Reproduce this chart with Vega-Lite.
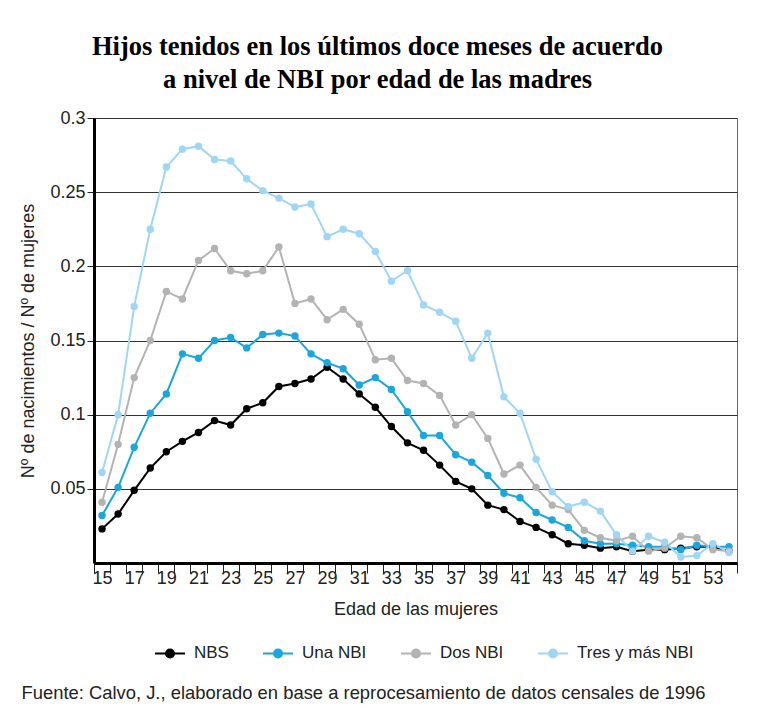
{
  "$schema": "https://vega.github.io/schema/vega-lite/v6.json",
  "background": "white",
  "padding": {"left": 19, "top": 33, "right": 10, "bottom": 10},
  "config": {
    "font": "Liberation Sans",
    "view": {"stroke": "#666", "strokeWidth": 1},
    "axis": {
      "labelFont": "Liberation Sans", "labelFontSize": 18, "labelColor": "#222",
      "titleFont": "Liberation Sans", "titleFontSize": 18, "titleFontWeight": "normal", "titleColor": "#222",
      "domainColor": "#000", "domainWidth": 3, "tickColor": "#222", "gridColor": "#333", "gridOpacity": 1
    }
  },
  "title": {
    "text": "Fuente: Calvo, J., elaborado en base a reprocesamiento de datos censales de 1996",
    "orient": "bottom", "anchor": "start", "font": "Liberation Sans", "fontSize": 18.4,
    "fontWeight": "normal", "color": "#222", "offset": 22, "dx": 2
  },
  "vconcat": [
    {
      "width": 643,
      "height": 445,
      "title": {
        "text": ["Hijos tenidos en los últimos doce meses de acuerdo", "a nivel de NBI por edad de las madres"],
        "font": "Liberation Serif", "fontSize": 26.5, "fontWeight": "bold", "color": "#000",
        "lineHeight": 33, "anchor": "middle", "dx": -38, "offset": 16
      },
      "data": {
        "values": [
          {"edad": 15, "NBS": 0.023, "Una NBI": 0.032, "Dos NBI": 0.041, "Tres y más NBI": 0.061},
          {"edad": 16, "NBS": 0.033, "Una NBI": 0.051, "Dos NBI": 0.080, "Tres y más NBI": 0.100},
          {"edad": 17, "NBS": 0.049, "Una NBI": 0.078, "Dos NBI": 0.125, "Tres y más NBI": 0.173},
          {"edad": 18, "NBS": 0.064, "Una NBI": 0.101, "Dos NBI": 0.150, "Tres y más NBI": 0.225},
          {"edad": 19, "NBS": 0.075, "Una NBI": 0.114, "Dos NBI": 0.183, "Tres y más NBI": 0.267},
          {"edad": 20, "NBS": 0.082, "Una NBI": 0.141, "Dos NBI": 0.178, "Tres y más NBI": 0.279},
          {"edad": 21, "NBS": 0.088, "Una NBI": 0.138, "Dos NBI": 0.204, "Tres y más NBI": 0.281},
          {"edad": 22, "NBS": 0.096, "Una NBI": 0.150, "Dos NBI": 0.212, "Tres y más NBI": 0.272},
          {"edad": 23, "NBS": 0.093, "Una NBI": 0.152, "Dos NBI": 0.197, "Tres y más NBI": 0.271},
          {"edad": 24, "NBS": 0.104, "Una NBI": 0.145, "Dos NBI": 0.195, "Tres y más NBI": 0.259},
          {"edad": 25, "NBS": 0.108, "Una NBI": 0.154, "Dos NBI": 0.197, "Tres y más NBI": 0.251},
          {"edad": 26, "NBS": 0.119, "Una NBI": 0.155, "Dos NBI": 0.213, "Tres y más NBI": 0.246},
          {"edad": 27, "NBS": 0.121, "Una NBI": 0.153, "Dos NBI": 0.175, "Tres y más NBI": 0.240},
          {"edad": 28, "NBS": 0.124, "Una NBI": 0.141, "Dos NBI": 0.178, "Tres y más NBI": 0.242},
          {"edad": 29, "NBS": 0.132, "Una NBI": 0.135, "Dos NBI": 0.164, "Tres y más NBI": 0.220},
          {"edad": 30, "NBS": 0.124, "Una NBI": 0.131, "Dos NBI": 0.171, "Tres y más NBI": 0.225},
          {"edad": 31, "NBS": 0.114, "Una NBI": 0.120, "Dos NBI": 0.161, "Tres y más NBI": 0.222},
          {"edad": 32, "NBS": 0.105, "Una NBI": 0.125, "Dos NBI": 0.137, "Tres y más NBI": 0.210},
          {"edad": 33, "NBS": 0.092, "Una NBI": 0.117, "Dos NBI": 0.138, "Tres y más NBI": 0.190},
          {"edad": 34, "NBS": 0.081, "Una NBI": 0.102, "Dos NBI": 0.123, "Tres y más NBI": 0.197},
          {"edad": 35, "NBS": 0.076, "Una NBI": 0.086, "Dos NBI": 0.121, "Tres y más NBI": 0.174},
          {"edad": 36, "NBS": 0.066, "Una NBI": 0.086, "Dos NBI": 0.113, "Tres y más NBI": 0.169},
          {"edad": 37, "NBS": 0.055, "Una NBI": 0.073, "Dos NBI": 0.093, "Tres y más NBI": 0.163},
          {"edad": 38, "NBS": 0.050, "Una NBI": 0.068, "Dos NBI": 0.100, "Tres y más NBI": 0.138},
          {"edad": 39, "NBS": 0.039, "Una NBI": 0.059, "Dos NBI": 0.084, "Tres y más NBI": 0.155},
          {"edad": 40, "NBS": 0.036, "Una NBI": 0.047, "Dos NBI": 0.060, "Tres y más NBI": 0.112},
          {"edad": 41, "NBS": 0.028, "Una NBI": 0.044, "Dos NBI": 0.066, "Tres y más NBI": 0.101},
          {"edad": 42, "NBS": 0.024, "Una NBI": 0.034, "Dos NBI": 0.051, "Tres y más NBI": 0.070},
          {"edad": 43, "NBS": 0.019, "Una NBI": 0.029, "Dos NBI": 0.039, "Tres y más NBI": 0.048},
          {"edad": 44, "NBS": 0.013, "Una NBI": 0.024, "Dos NBI": 0.036, "Tres y más NBI": 0.038},
          {"edad": 45, "NBS": 0.012, "Una NBI": 0.015, "Dos NBI": 0.022, "Tres y más NBI": 0.041},
          {"edad": 46, "NBS": 0.010, "Una NBI": 0.013, "Dos NBI": 0.017, "Tres y más NBI": 0.035},
          {"edad": 47, "NBS": 0.011, "Una NBI": 0.013, "Dos NBI": 0.015, "Tres y más NBI": 0.019},
          {"edad": 48, "NBS": 0.008, "Una NBI": 0.012, "Dos NBI": 0.018, "Tres y más NBI": 0.008},
          {"edad": 49, "NBS": 0.009, "Una NBI": 0.011, "Dos NBI": 0.008, "Tres y más NBI": 0.018},
          {"edad": 50, "NBS": 0.009, "Una NBI": 0.011, "Dos NBI": 0.010, "Tres y más NBI": 0.014},
          {"edad": 51, "NBS": 0.010, "Una NBI": 0.009, "Dos NBI": 0.018, "Tres y más NBI": 0.004},
          {"edad": 52, "NBS": 0.011, "Una NBI": 0.012, "Dos NBI": 0.017, "Tres y más NBI": 0.005},
          {"edad": 53, "NBS": 0.011, "Una NBI": 0.011, "Dos NBI": 0.009, "Tres y más NBI": 0.013},
          {"edad": 54, "NBS": 0.008, "Una NBI": 0.011, "Dos NBI": 0.008, "Tres y más NBI": 0.007}
        ]
      },
      "transform": [
        {"fold": ["NBS", "Una NBI", "Dos NBI", "Tres y más NBI"], "as": ["grupo", "valor"]}
      ],
      "mark": {"type": "line", "strokeWidth": 2, "point": {"filled": true, "size": 55, "opacity": 1}},
      "encoding": {
        "x": {
          "field": "edad", "type": "ordinal",
          "scale": {"type": "band", "paddingInner": 0, "paddingOuter": 0},
          "axis": {
            "title": "Edad de las mujeres", "labelAngle": 0, "tickBand": "extent", "tickSize": 10,
            "labelExpr": "datum.value % 2 == 1 ? datum.label : ''", "grid": false,
            "labelPadding": -4, "titlePadding": 13
          }
        },
        "y": {
          "field": "valor", "type": "quantitative",
          "scale": {"domain": [0, 0.3], "nice": false},
          "axis": {
            "title": "Nº de nacimientos / Nº de mujeres",
            "values": [0.05, 0.1, 0.15, 0.2, 0.25, 0.3], "format": "~g",
            "grid": true, "tickSize": 7, "labelPadding": 2, "titlePadding": 12
          }
        },
        "color": {
          "field": "grupo", "type": "nominal",
          "scale": {"domain": ["NBS", "Una NBI", "Dos NBI", "Tres y más NBI"], "range": ["#000000", "#1aa7e0", "#b3b3b3", "#9fd6f5"]},
          "sort": ["NBS", "Una NBI", "Dos NBI", "Tres y más NBI"],
          "legend": {
            "title": null, "orient": "none", "direction": "horizontal",
            "legendX": 60, "legendY": 519,
            "symbolType": "M-1,0L1,0M0.27,0A0.27,0.27,0,1,1,-0.27,0A0.27,0.27,0,1,1,0.27,0Z",
            "symbolSize": 900, "symbolStrokeWidth": 2, "labelOffset": 8,
            "labelFont": "Liberation Sans", "labelFontSize": 17, "labelColor": "#222",
            "columnPadding": 30,
            "encode": {"symbols": {"update": {"fill": {"scale": "color", "field": "value"}, "stroke": {"scale": "color", "field": "value"}, "opacity": {"value": 1}}}}
          }
        }
      }
    }
  ]
}
